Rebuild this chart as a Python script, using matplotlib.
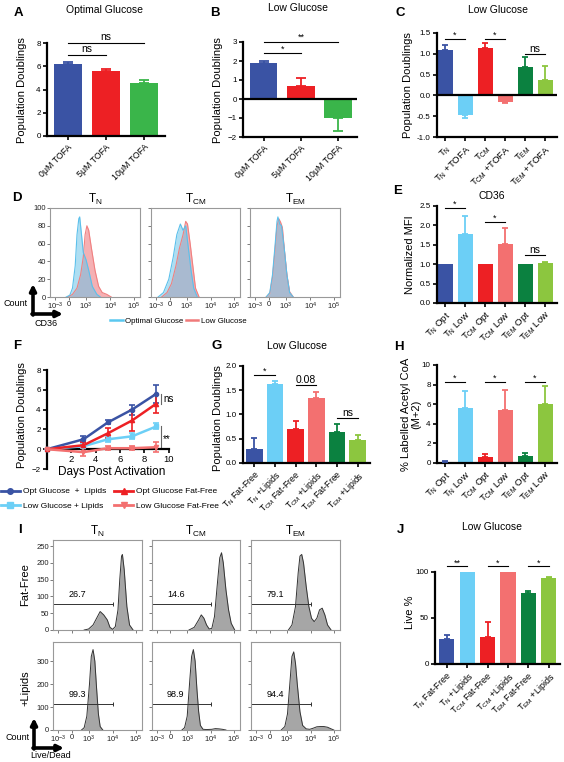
import numpy as np
import matplotlib.pyplot as plt
from matplotlib.lines import Line2D
from matplotlib.patches import FancyArrowPatch

plt.rcParams['font.family'] = ['Liberation Sans', 'DejaVu Sans']
plt.rcParams['mathtext.default'] = 'regular'

W, H = 564, 762

BLUE = '#3a53a4'
LBLUE = '#6ccff6'
RED = '#ed2024'
PINK = '#f37070'
DGREEN = '#0b8140'
LGREEN = '#8cc63f'
GREEN = '#3ab54a'
six_colors = [BLUE, LBLUE, RED, PINK, DGREEN, LGREEN]

# ---- data ----
tofa_labels = ['0μM TOFA', '5μM TOFA', '10μM TOFA']
a_vals = [6.2, 5.6, 4.6]
a_err = [0.15, 0.2, 0.2]
b_vals = [1.9, 0.7, -1.0]
b_err = [0.1, 0.42, 0.7]

c_labels = ['T$_{N}$', 'T$_{N}$ +TOFA', 'T$_{CM}$', 'T$_{CM}$ +TOFA', 'T$_{EM}$', 'T$_{EM}$ +TOFA']
c_vals = [1.08, -0.48, 1.15, -0.15, 0.68, 0.38]
c_err = [0.12, 0.07, 0.12, 0.03, 0.25, 0.32]

e_labels = ['T$_{N}$ Opt', 'T$_{N}$ Low', 'T$_{CM}$ Opt', 'T$_{CM}$ Low', 'T$_{EM}$ Opt', 'T$_{EM}$ Low']
e_vals = [1.0, 1.78, 1.0, 1.53, 1.0, 1.04]
e_err = [0, 0.47, 0, 0.4, 0, 0.01]

days = [0, 3, 5, 7, 9]
f_opt_lip = [0, 1.0, 2.7, 4.0, 5.6]
f_opt_lip_err = [0, 0.3, 0.2, 0.5, 0.9]
f_opt_ff = [0, 0.4, 1.6, 2.9, 4.6]
f_opt_ff_err = [0, 0.3, 0.5, 1.1, 0.9]
f_low_lip = [0, 0.3, 1.0, 1.3, 2.3]
f_low_lip_err = [0, 0.2, 0.3, 0.3, 0.3]
f_low_ff = [0, -0.3, 0.1, 0.1, 0.2]
f_low_ff_err = [0, 0.4, 0.2, 0.2, 0.5]

g_labels = ['T$_{N}$ Fat-Free', 'T$_{N}$ +Lipids', 'T$_{CM}$ Fat-Free', 'T$_{CM}$ +Lipids',
            'T$_{EM}$ Fat-Free', 'T$_{EM}$ +Lipids']
g_vals = [0.28, 1.62, 0.7, 1.35, 0.63, 0.47]
g_err = [0.24, 0.08, 0.17, 0.12, 0.18, 0.1]

h_vals = [0.15, 5.6, 0.6, 5.4, 0.75, 6.0]
h_err = [0.05, 1.7, 0.35, 2.0, 0.3, 1.9]

j_vals = [27, 99.5, 29, 99.5, 77.5, 94]
j_err = [5, 0.3, 17, 0.3, 2, 0.5]

# flow histograms (x in display units 0-100, counts)
flow_ticks = [6, 21, 40, 67, 93]
flow_ticklabels = ['10$^{-3}$', '0', '10$^{3}$', '10$^{4}$', '10$^{5}$']

d_tn_opt_x = [18, 22, 25, 28, 30, 32, 33, 35, 37, 40, 43, 47, 52, 56]
d_tn_opt_y = [0, 2, 10, 35, 70, 88, 90, 70, 50, 42, 30, 12, 3, 0]
d_tn_low_x = [20, 25, 30, 34, 37, 39, 41, 43, 46, 50, 54, 58, 63, 68]
d_tn_low_y = [0, 3, 10, 25, 45, 70, 80, 75, 55, 30, 12, 5, 3, 0]
d_tcm_opt_x = [8, 14, 20, 25, 29, 33, 36, 39, 42, 45, 48, 52]
d_tcm_opt_y = [0, 5, 20, 45, 70, 82, 75, 80, 55, 30, 10, 0]
d_tcm_low_x = [12, 18, 23, 28, 32, 36, 39, 41, 44, 47, 50, 54]
d_tcm_low_y = [0, 5, 15, 35, 55, 70, 85, 82, 60, 35, 10, 0]
d_tem_opt_x = [18, 22, 25, 28, 30, 31, 33, 35, 38, 41, 44, 48]
d_tem_opt_y = [0, 5, 25, 60, 85, 90, 82, 80, 55, 25, 5, 0]
d_tem_low_x = [18, 22, 25, 28, 30, 32, 34, 36, 38, 41, 44, 48]
d_tem_low_y = [0, 4, 22, 55, 80, 88, 84, 78, 55, 25, 6, 0]

i_tn_ff_x = [35, 40, 45, 50, 53, 57, 61, 64, 67, 70, 73, 75, 77, 78, 80, 83, 86, 90]
i_tn_ff_y = [0, 3, 15, 40, 55, 45, 30, 8, 2, 10, 60, 150, 220, 225, 180, 70, 15, 0]
i_tcm_ff_x = [42, 48, 53, 56, 59, 62, 65, 68, 71, 74, 77, 79, 81, 84, 87, 90, 94]
i_tcm_ff_y = [0, 8, 30, 45, 35, 15, 3, 5, 40, 130, 215, 230, 200, 120, 60, 20, 0]
i_tem_ff_x = [42, 46, 50, 53, 55, 57, 59, 62, 65, 68, 71, 74, 77, 80, 83, 86, 90]
i_tem_ff_y = [0, 15, 70, 170, 220, 225, 200, 130, 70, 35, 25, 35, 60, 65, 45, 15, 0]
i_tn_lip_x = [32, 35, 38, 41, 43, 45, 47, 49, 51, 53, 56]
i_tn_lip_y = [0, 10, 60, 200, 320, 350, 300, 180, 70, 15, 0]
i_tcm_lip_x = [34, 37, 40, 43, 45, 47, 49, 51, 53, 55, 58, 62, 68, 72, 76, 80, 84]
i_tcm_lip_y = [0, 10, 60, 220, 320, 350, 300, 180, 80, 20, 3, 2, 3, 6, 5, 3, 0]
i_tem_lip_x = [34, 38, 41, 44, 46, 48, 50, 52, 55, 58, 62, 66, 70, 74, 78, 82, 86, 90, 93]
i_tem_lip_y = [0, 15, 70, 220, 320, 340, 290, 200, 80, 20, 5, 3, 8, 14, 15, 15, 12, 5, 0]
i_gates_ff = [26.7, 14.6, 79.1]
i_gates_lip = [99.3, 98.9, 94.4]

fig = plt.figure(figsize=(W / 100, H / 100), dpi=100)


def add_ax(x0, y0, x1, y1):
    return fig.add_axes([x0 / W, 1 - y1 / H, (x1 - x0) / W, (y1 - y0) / H])


def ftext(x, y, s, **kw):
    fig.text(x / W, 1 - y / H, s, **kw)


def bar_panel(box, vals, errs, colors, ylim, yticks, xlim, width, labels, cap=2.5,
              zero_line=False, xfs=6.8):
    ax = add_ax(*box)
    x = np.arange(len(vals))
    ax.bar(x, vals, width, color=colors, zorder=2)
    for xi, v, e, c in zip(x, vals, errs, colors):
        if e <= 0:
            continue
        yerr = [[0], [e]] if v >= 0 else [[e], [0]]
        ax.errorbar([xi], [v], yerr=yerr, fmt='none', ecolor=c, elinewidth=1.3,
                    capsize=cap, capthick=1.3, zorder=3)
    ax.set_xlim(*xlim)
    ax.set_ylim(*ylim)
    ax.set_yticks(yticks)
    ax.set_xticks(x)
    ax.set_xticklabels(labels, rotation=45, ha='right', rotation_mode='anchor', fontsize=xfs)
    for s in ['top', 'right']:
        ax.spines[s].set_visible(False)
    for s in ['left', 'bottom']:
        ax.spines[s].set_linewidth(1.6)
    ax.tick_params(axis='y', labelsize=5.8)
    ax.tick_params(axis='both', direction='out', length=3, width=1.2, pad=1.5)
    if zero_line:
        ax.axhline(0, color='k', lw=1.6, zorder=4)
    return ax


def bracket(ax, x1, x2, y, s, dy, fs=6.5):
    ax.plot([x1, x2], [y, y], color='k', lw=0.8, clip_on=False)
    ax.text((x1 + x2) / 2, y + dy, s, ha='center', va='bottom', fontsize=fs, clip_on=False)


# ---- A ----
ax = bar_panel((47, 43, 165, 136), a_vals, a_err, [BLUE, RED, GREEN], (0, 8), [0, 2, 4, 6, 8],
               (-0.55, 2.55), 0.72, tofa_labels, cap=3.5, xfs=6.3)
bracket(ax, 0, 1, 7.0, 'ns', 0.05, 7.5)
bracket(ax, 0, 2, 8.0, 'ns', 0.05, 7.5)

# ---- B ----
ax = bar_panel((243, 42, 357, 137), b_vals, b_err, [BLUE, RED, GREEN], (-2, 3), [-2, -1, 0, 1, 2, 3],
               (-0.55, 2.5), 0.74, tofa_labels, cap=3.5, zero_line=True, xfs=6.3)
bracket(ax, 0, 1, 2.4, '*', 0.0)
bracket(ax, 0, 2, 3.0, '**', 0.0)

# ---- C ----
ax = bar_panel((437, 33, 557, 137), c_vals, c_err, six_colors, (-1, 1.5), [-1.0, -0.5, 0.0, 0.5, 1.0, 1.5],
               (-0.4, 5.6), 0.75, c_labels, zero_line=True)
ax.set_yticklabels(['-1.0', '-0.5', '0.0', '0.5', '1.0', '1.5'])
bracket(ax, 0, 1, 1.35, '*', -0.02)
bracket(ax, 2, 3, 1.35, '*', -0.02)
bracket(ax, 4, 5, 1.0, 'ns', 0.0, 7.5)

# ---- E ----
ax = bar_panel((437, 206, 557, 303), e_vals, e_err, six_colors, (0, 2.5), [0.0, 0.5, 1.0, 1.5, 2.0, 2.5],
               (-0.4, 5.6), 0.75, e_labels)
ax.set_yticklabels(['0.0', '0.5', '1.0', '1.5', '2.0', '2.5'])
bracket(ax, 0, 1, 2.45, '*', -0.02)
bracket(ax, 2, 3, 2.08, '*', -0.02)
bracket(ax, 4, 5, 1.23, 'ns', 0.0, 7.5)

# ---- G ----
ax = bar_panel((243, 366, 370, 463), g_vals, g_err, six_colors, (0, 2), [0.0, 0.5, 1.0, 1.5, 2.0],
               (-0.55, 5.6), 0.8, g_labels, xfs=6.3)
ax.set_yticklabels(['0.0', '0.5', '1.0', '1.5', '2.0'])
bracket(ax, 0, 1, 1.82, '*', -0.02)
bracket(ax, 2, 3, 1.6, '0.08', 0.0, 7.5)
bracket(ax, 4, 5, 0.92, 'ns', 0.0, 7.5)

# ---- H ----
ax = bar_panel((437, 365, 557, 463), h_vals, h_err, six_colors, (0, 10), [0, 2, 4, 6, 8, 10],
               (-0.4, 5.6), 0.75, e_labels)
for k in range(3):
    bracket(ax, 2 * k, 2 * k + 1, 8.3, '*', -0.1)

# ---- J ----
ax = bar_panel((435, 572, 560, 664), j_vals, j_err, six_colors, (0, 100), [0, 50, 100],
               (-0.58, 5.55), 0.75, g_labels, xfs=6.5)
bracket(ax, 0, 1, 106, '**', -1)
bracket(ax, 2, 3, 106, '*', -1)
bracket(ax, 4, 5, 106, '*', -1)

# ---- F ----
ax = add_ax(47, 370, 168.5, 469)
series = [(f_opt_lip, f_opt_lip_err, BLUE, 'o', 'Opt Glucose  +  Lipids'),
          (f_low_lip, f_low_lip_err, LBLUE, 's', 'Low Glucose + Lipids'),
          (f_opt_ff, f_opt_ff_err, RED, '^', 'Opt Glucose Fat-Free'),
          (f_low_ff, f_low_ff_err, PINK, 'v', 'Low Glucose Fat-Free')]
handles = []
for vals, errs, c, m, lab in series:
    ax.errorbar(days, vals, yerr=errs, color=c, marker=m, ms=3, lw=1.8, elinewidth=1.2,
                capsize=2, capthick=1.2, clip_on=False, zorder=3)
    handles.append(Line2D([], [], color=c, marker=m, ms=4, lw=2, label=lab))
ax.set_xlim(0, 10)
ax.set_ylim(-2, 8)
ax.set_xticks([2, 4, 6, 8, 10])
ax.set_yticks([-2, 0, 2, 4, 6, 8])
ax.spines['top'].set_visible(False)
ax.spines['right'].set_visible(False)
ax.spines['bottom'].set_position(('data', 0))
for s in ['left', 'bottom']:
    ax.spines[s].set_linewidth(1.6)
ax.tick_params(axis='both', direction='out', length=3, width=1.2, labelsize=5.8, pad=1.5)
ax.tick_params(axis='x', labelsize=6.8)
ax.plot([9.4, 9.4], [4.6, 5.6], color='#666', lw=0.8, clip_on=False)
ax.text(9.6, 5.1, 'ns', fontsize=7, va='center')
ax.plot([9.4, 9.4], [0.2, 2.3], color='#666', lw=0.8, clip_on=False)
ax.text(9.55, 1.0, '**', fontsize=7, va='center')
ftext(112, 472, 'Days Post Activation', ha='center', va='center', fontsize=8.5)
fig.legend(handles=handles, ncol=2, frameon=False, fontsize=6.0, handlelength=2.3,
           columnspacing=0.9, handletextpad=0.4, labelspacing=0.85,
           loc='center', bbox_to_anchor=(110 / W, 1 - 499 / H))


# ---- flow panels ----
def flow_ax(box, ylim, yticks, show_ylabels):
    ax = add_ax(*box)
    ax.set_xlim(0, 100)
    ax.set_ylim(*ylim)
    ax.set_xticks(flow_ticks)
    ax.set_xticklabels(flow_ticklabels)
    ax.set_yticks(yticks)
    if not show_ylabels:
        ax.set_yticklabels([])
    for s in ax.spines.values():
        s.set_color('#999999')
        s.set_linewidth(0.8)
    ax.tick_params(axis='both', direction='out', length=2, width=0.6, labelsize=5.5,
                   pad=1, color='#666666', labelcolor='#222222')
    return ax


d_boxes = [(50, 208, 140, 297), (151, 208, 240, 297), (250, 208, 340, 297)]
d_curves = [(d_tn_opt_x, d_tn_opt_y, d_tn_low_x, d_tn_low_y),
            (d_tcm_opt_x, d_tcm_opt_y, d_tcm_low_x, d_tcm_low_y),
            (d_tem_opt_x, d_tem_opt_y, d_tem_low_x, d_tem_low_y)]
titles = ['T$_{N}$', 'T$_{CM}$', 'T$_{EM}$']
for k, (box, cur) in enumerate(zip(d_boxes, d_curves)):
    ax = flow_ax(box, (0, 100), [0, 20, 40, 60, 80, 100], k == 0)
    ox, oy, lx, ly = cur
    ax.fill_between(lx, ly, color='#f4a3a6', alpha=0.85, lw=0)
    ax.plot(lx, ly, color='#f08080', lw=0.8)
    ax.fill_between(ox, oy, color='#6cc4e8', alpha=0.55, lw=0)
    ax.plot(ox, oy, color='#5bc0eb', lw=0.8)
    ftext((box[0] + box[2]) / 2, 199, titles[k], ha='center', va='center', fontsize=8.5)

d_handles = [Line2D([], [], color='#5bc8f0', lw=1.8, label='Optimal Glucose'),
             Line2D([], [], color='#f07a7a', lw=1.8, label='Low Glucose')]
fig.legend(handles=d_handles, ncol=2, frameon=False, fontsize=5.7, handlelength=1.6,
           columnspacing=0.3, handletextpad=0.3, loc='center',
           bbox_to_anchor=(178 / W, 1 - 321 / H))

i_cols = [(53, 142), (152, 240), (251, 340)]
i_ff = [(i_tn_ff_x, i_tn_ff_y), (i_tcm_ff_x, i_tcm_ff_y), (i_tem_ff_x, i_tem_ff_y)]
i_lip = [(i_tn_lip_x, i_tn_lip_y), (i_tcm_lip_x, i_tcm_lip_y), (i_tem_lip_x, i_tem_lip_y)]
for k, (x0, x1) in enumerate(i_cols):
    ax = flow_ax((x0, 540, x1, 630), (0, 268), [0, 50, 100, 150, 200, 250], k == 0)
    hx, hy = i_ff[k]
    ax.fill_between(hx, hy, color='#a6a6a6', lw=0)
    ax.plot(hx, hy, color='#333333', lw=0.7)
    ax.plot([0.5, 67], [77, 77], color='#333', lw=0.7, marker='|', ms=3, mew=0.7)
    ax.text(27, 92, f'{i_gates_ff[k]}', ha='center', va='bottom', fontsize=6.5)
    ax.set_xticklabels([])
    ftext((x0 + x1) / 2, 531, titles[k], ha='center', va='center', fontsize=8.5)

    ax = flow_ax((x0, 642, x1, 730), (0, 383), [0, 100, 200, 300], k == 0)
    hx, hy = i_lip[k]
    ax.fill_between(hx, hy, color='#a6a6a6', lw=0)
    ax.plot(hx, hy, color='#333333', lw=0.7)
    ax.plot([0.5, 67], [113, 113], color='#333', lw=0.7, marker='|', ms=3, mew=0.7)
    ax.text(27, 135, f'{i_gates_lip[k]}', ha='center', va='bottom', fontsize=6.5)

ftext(25, 585, 'Fat-Free', rotation=90, ha='center', va='center', fontsize=8)
ftext(25, 688, '+Lipids', rotation=90, ha='center', va='center', fontsize=8)


# ---- axis arrows ----
def fig_arrow(x0, y0, x1, y1):
    fig.add_artist(FancyArrowPatch((x0 / W, 1 - y0 / H), (x1 / W, 1 - y1 / H),
                                   transform=fig.transFigure, arrowstyle='-|>',
                                   mutation_scale=9, lw=2.6, color='k',
                                   shrinkA=0, shrinkB=0))


for (vx, vy_top, vy_bot, hx_end, lab1, p1, lab2, p2) in [
        (33, 284, 314, 63, 'Count', (16, 304), 'CD36', (46, 323)),
        (34, 718, 748, 64, 'Count', (18, 737), 'Live/Dead', (51, 756))]:
    fig_arrow(vx, vy_bot + 1, vx, vy_top)
    fig_arrow(vx - 1, vy_bot, hx_end, vy_bot)
    ftext(p1[0], p1[1], lab1, ha='center', va='center', fontsize=6.5)
    ftext(p2[0], p2[1], lab2, ha='center', va='center', fontsize=6.5)

# ---- y labels, titles and panel letters ----
ylabels = [(22, 90, 'Population Doublings'), (218, 90, 'Population Doublings'),
           (408, 85, 'Population Doublings'), (410, 255, 'Normalized MFI'),
           (22, 415, 'Population Doublings'), (218, 418, 'Population Doublings'),
           (411, 414, '% Labelled Acetyl CoA\n(M+2)'), (410, 612, 'Live %')]
for x, y, s in ylabels:
    ftext(x, y, s, rotation=90, ha='center', va='center', fontsize=8, linespacing=1.0)

for x, y, s in [(105, 10, 'Optimal Glucose'), (298, 8, 'Low Glucose'), (498, 10, 'Low Glucose'),
                (492, 196, 'CD36'), (297, 346, 'Low Glucose'), (492, 527, 'Low Glucose')]:
    ftext(x, y, s, ha='center', va='center', fontsize=7.5)

for x, y, s in [(18, 13, 'A'), (215, 13, 'B'), (400, 13, 'C'), (17, 198, 'D'), (398, 191, 'E'),
                (17, 346, 'F'), (217, 346, 'G'), (399, 347, 'H'), (20, 530, 'I'), (400, 530, 'J')]:
    ftext(x, y, s, ha='center', va='center', fontsize=9.5, fontweight='bold')

fig.savefig('out.png', dpi=100)
